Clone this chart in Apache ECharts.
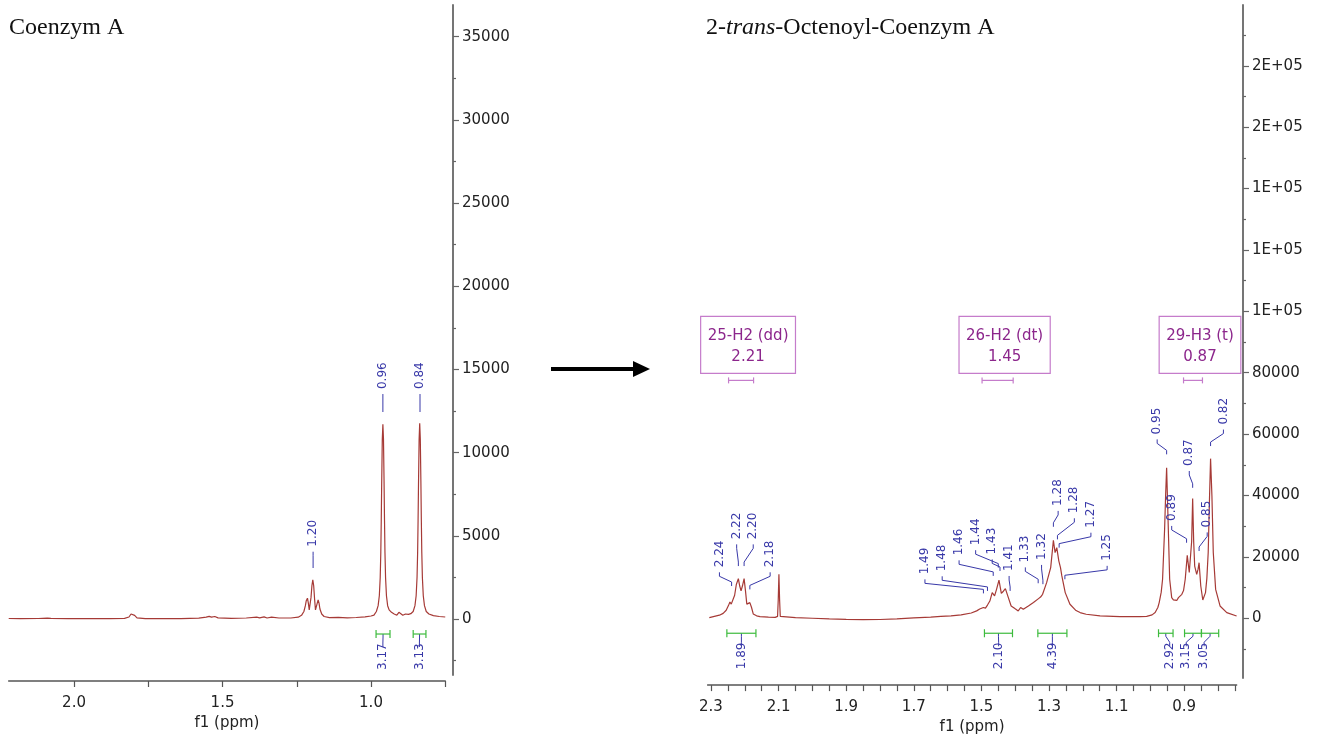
<!DOCTYPE html>
<html>
<head>
<meta charset="utf-8">
<title>NMR Coenzym A</title>
<script src="https://cdn.jsdelivr.net/npm/echarts@6/dist/echarts.min.js"></script>
<style>
  html, body { margin: 0; padding: 0; background: #fff; }
  #chart { width: 1324px; height: 740px; }
</style>
</head>
<body>
<div id="chart"></div>
<script>
'use strict';

// spectrum of Coenzym A: [ppm, intensity]
var coenzymeSpectrum = [
  [2.220, 30], [2.180, 20], [2.120, 30], [2.090, 50], [2.084, 130], [2.078, 40], [2.020, 20],
  [1.950, 30], [1.880, 20], [1.830, 40], [1.815, 120], [1.808, 300], [1.802, 380], [1.796, 220], [1.788, 70],
  [1.760, 20], [1.700, 30], [1.640, 20], [1.580, 50], [1.555, 110], [1.545, 160], [1.537, 110], [1.526, 150], [1.515, 70],
  [1.470, 40], [1.420, 60], [1.385, 110], [1.375, 70], [1.360, 130], [1.350, 60], [1.335, 110], [1.310, 60],
  [1.270, 60], [1.245, 110], [1.234, 220], [1.226, 450], [1.221, 800], [1.218, 1100], [1.214, 1250], [1.211, 950],
  [1.208, 550], [1.205, 650], [1.202, 1300], [1.199, 2000], [1.196, 2350], [1.193, 2000], [1.190, 1200],
  [1.187, 550], [1.184, 500], [1.181, 950], [1.178, 1150], [1.175, 950], [1.172, 600], [1.166, 300],
  [1.158, 150], [1.140, 80], [1.110, 100], [1.080, 70], [1.050, 90], [1.020, 130], [1.000, 180],
  [0.990, 230], [0.982, 450], [0.976, 800], [0.972, 1400], [0.969, 2500], [0.967, 4000], [0.9655, 5900],
  [0.964, 8200], [0.962, 10800], [0.960, 11700], [0.958, 10800], [0.956, 8200], [0.9545, 5900], [0.953, 4000],
  [0.951, 2500], [0.948, 1400], [0.944, 800], [0.939, 550], [0.935, 600], [0.931, 400], [0.922, 300],
  [0.913, 230], [0.906, 400], [0.901, 280], [0.893, 230], [0.884, 300], [0.874, 280], [0.866, 320],
  [0.858, 450], [0.852, 800], [0.848, 1400], [0.845, 2500], [0.843, 4000], [0.8415, 5900], [0.840, 8200],
  [0.838, 10800], [0.836, 11760], [0.834, 10800], [0.832, 8200], [0.8305, 5900], [0.829, 4000],
  [0.827, 2500], [0.824, 1400], [0.820, 800], [0.814, 450], [0.805, 300], [0.790, 200], [0.770, 150], [0.750, 120]
];

// spectrum of 2-trans-Octenoyl-Coenzym A: [ppm, intensity]
var octenoylSpectrum = [
  [2.305, 200], [2.290, 600], [2.275, 1000], [2.264, 1600], [2.255, 2600], [2.248, 4200], [2.244, 5300],
  [2.240, 4600], [2.236, 4500], [2.230, 7500], [2.225, 11000], [2.219, 12900], [2.215, 10500], [2.211, 8900],
  [2.207, 10500], [2.202, 12900], [2.198, 9000], [2.194, 4600], [2.189, 4800], [2.185, 5100], [2.180, 3500],
  [2.175, 1400], [2.165, 800], [2.155, 550], [2.130, 350], [2.110, 300], [2.103, 600], [2.101, 6000],
  [2.099, 14300], [2.097, 6000], [2.095, 600], [2.090, 300], [2.050, 200], [2.000, 0], [1.950, -200],
  [1.900, -350], [1.850, -450], [1.800, -400], [1.750, -200], [1.700, 100], [1.650, 350], [1.620, 600],
  [1.590, 800], [1.560, 1100], [1.530, 1700], [1.514, 2400], [1.505, 3000], [1.494, 3500], [1.488, 3300],
  [1.482, 4300], [1.475, 5600], [1.468, 8350], [1.461, 7300], [1.455, 9500], [1.448, 12400], [1.441, 8100],
  [1.435, 8800], [1.429, 9650], [1.422, 7300], [1.412, 4000], [1.401, 3150], [1.396, 3800], [1.391, 2400],
  [1.384, 3500], [1.376, 2900], [1.368, 3500], [1.361, 4000], [1.346, 5100], [1.331, 6400], [1.325, 6900],
  [1.319, 7800], [1.307, 11600], [1.295, 16500], [1.287, 25400], [1.282, 21400], [1.277, 23000],
  [1.271, 18700], [1.266, 16500], [1.262, 13800], [1.252, 8350], [1.238, 4550], [1.220, 2500],
  [1.208, 1850], [1.190, 1300], [1.149, 750], [1.090, 550], [1.030, 500], [1.011, 600], [0.995, 1100],
  [0.986, 1850], [0.978, 3500], [0.974, 5100], [0.968, 8500], [0.964, 12700], [0.958, 29000], [0.955, 40000],
  [0.952, 49000], [0.950, 41000], [0.947, 29000], [0.943, 12700], [0.937, 6700], [0.932, 6000], [0.927, 6200],
  [0.922, 5800], [0.917, 6700], [0.912, 6400], [0.907, 7800], [0.902, 9000], [0.897, 12700], [0.891, 20500],
  [0.885, 14900], [0.882, 14300], [0.878, 25000], [0.875, 39000], [0.872, 25000], [0.869, 17000],
  [0.863, 14300], [0.859, 16000], [0.856, 18100], [0.851, 10500], [0.845, 5950], [0.841, 6500],
  [0.837, 8350], [0.833, 13000], [0.829, 21400], [0.825, 39800], [0.822, 52000], [0.818, 39800],
  [0.814, 21400], [0.807, 9400], [0.794, 4000], [0.774, 1850], [0.745, 750]
];

// peak picking texts
var coenzymePeaks = ['1.20', '0.96', '0.84'];
var octenoylPeaks = ['2.24', '2.22', '2.20', '2.18', '1.49', '1.48', '1.46', '1.44', '1.43', '1.41',
  '1.33', '1.32', '1.28', '1.28', '1.27', '1.25', '0.95', '0.89', '0.87', '0.85', '0.82'];

// integrals
var coenzymeIntegrals = ['3.17', '3.13'];
var coenzymeIntegralRanges = [[0.983, 0.936], [0.858, 0.815]];
var octenoylIntegrals = ['1.89', '2.10', '4.39', '2.92', '3.15', '3.05'];
var octenoylIntegralRanges = [[2.253, 2.167], [1.491, 1.408], [1.333, 1.247], [0.976, 0.933], [0.899, 0.849], [0.849, 0.798]];

// multiplets
var multipletNames = ['25-H2 (dd)', '26-H2 (dt)', '29-H3 (t)'];
var multipletShifts = ['2.21', '1.45', '0.87'];
var multipletRanges = [[2.248, 2.174], [1.498, 1.406], [0.902, 0.846]];

// tick labels
var coenzymePpmLabels = [2.0, 1.5, 1.0];
var octenoylPpmLabels = [2.3, 2.1, 1.9, 1.7, 1.5, 1.3, 1.1, 0.9];
var coenzymeIntensityLabels = [0, 5000, 10000, 15000, 20000, 25000, 30000, 35000];
var octenoylIntensityLabels = [0, 20000, 40000, 60000, 80000, 100000, 120000, 140000, 160000, 180000];

// ---- annotation layout (text anchor ppm, text bottom, leader end ppm, leader end) ----
var coenzymePeakLayout = [
  [1.195, 4345, 1.195, 3065], [0.960, 13820, 0.960, 12440], [0.835, 13820, 0.835, 12440]
];
var octenoylPeakLayout = [
  [2.275, 16600, 2.239, 10500], [2.224, 25700, 2.219, 17000], [2.175, 25700, 2.202, 17000],
  [2.125, 16600, 2.185, 9400], [1.667, 14300, 1.494, 8100], [1.616, 15300, 1.482, 8900],
  [1.566, 20500, 1.465, 13800], [1.517, 23800, 1.450, 16500], [1.468, 20800, 1.445, 15400],
  [1.418, 15400, 1.415, 8900], [1.370, 18200, 1.332, 11400], [1.322, 19000, 1.318, 11100],
  [1.273, 36600, 1.287, 29800], [1.225, 34200, 1.275, 25700], [1.176, 29500, 1.270, 23000],
  [1.128, 18700, 1.253, 12700], [0.980, 59900, 0.952, 53400], [0.937, 31700, 0.893, 24600],
  [0.885, 49600, 0.875, 42500], [0.832, 29600, 0.856, 21900], [0.784, 63100, 0.822, 56100]
];
var coenzymeIntegralText = [0.960, 0.837];
var octenoylIntegralText = [2.210, 1.449, 1.290, 0.943, 0.894, 0.841];
var MULTIPLET_LEVEL = 77500;

var BLUE = '#3838a8';
var GREEN = '#3dbb3d';
var RED = '#a63a36';
var PURPLE = '#8c268c';
var PURPLE_LINE = '#c57ccb';
var FONT = 'DejaVu Sans';

function range(from, to, step) {
  var out = [];
  var n = Math.round((to - from) / step);
  for (var i = 0; i <= n; i++) out.push(Math.round((from + i * step) * 1000) / 1000);
  return out;
}

function plain(v) {
  return String(v);
}

function peakSeries(xi, yi, layout, texts) {
  return {
    type: 'custom', xAxisIndex: xi, yAxisIndex: yi, data: layout, silent: true, z: 5,
    renderItem: function (params, api) {
      var t = api.coord([api.value(0), api.value(1)]);
      var e = api.coord([api.value(2), api.value(3)]);
      var y1 = t[1] + 5, y2 = y1 + 4;
      var y3 = Math.max(e[1] - 4, y2);
      return {
        type: 'group',
        children: [{
          type: 'text', x: t[0], y: t[1], rotation: Math.PI / 2,
          style: { text: texts[params.dataIndex], fill: BLUE, fontSize: 12, fontFamily: FONT, align: 'left', verticalAlign: 'middle' }
        }, {
          type: 'polyline',
          shape: { points: [[t[0], y1], [t[0], y2], [e[0], y3], [e[0], e[1]]] },
          style: { stroke: BLUE, lineWidth: 1, fill: null }
        }]
      };
    }
  };
}

function integralSeries(xi, yi, ranges, textPos, texts) {
  var data = ranges.map(function (r, i) { return [r[0], r[1], textPos[i]]; });
  return {
    type: 'custom', xAxisIndex: xi, yAxisIndex: yi, data: data, silent: true, z: 5,
    renderItem: function (params, api) {
      var s = api.coord([api.value(0), 0]);
      var e = api.coord([api.value(1), 0]);
      var t = api.coord([api.value(2), 0]);
      var y = s[1] + 15;
      var cx = (s[0] + e[0]) / 2;
      return {
        type: 'group',
        children: [{
          type: 'polyline', shape: { points: [[cx, y], [cx, y + 3], [t[0], y + 9], [t[0], y + 13]] },
          style: { stroke: BLUE, lineWidth: 1, fill: null }
        }, {
          type: 'line', shape: { x1: s[0], y1: y, x2: e[0], y2: y }, style: { stroke: GREEN, lineWidth: 1.2 }
        }, {
          type: 'line', shape: { x1: s[0], y1: y - 4, x2: s[0], y2: y + 4 }, style: { stroke: GREEN, lineWidth: 1.2 }
        }, {
          type: 'line', shape: { x1: e[0], y1: y - 4, x2: e[0], y2: y + 4 }, style: { stroke: GREEN, lineWidth: 1.2 }
        }, {
          type: 'text', x: t[0], y: y + 36, rotation: Math.PI / 2,
          style: { text: texts[params.dataIndex], fill: BLUE, fontSize: 12, fontFamily: FONT, align: 'left', verticalAlign: 'middle' }
        }]
      };
    }
  };
}

var chart = echarts.init(document.getElementById('chart'));

var option = {
  animation: false,
  backgroundColor: '#fff',
  grid: [
    { left: 8.7, right: 878.75, top: 5, bottom: 65 },
    { left: 707.6, right: 87.4, top: 5, bottom: 61 }
  ],
  xAxis: [{
    gridIndex: 0, type: 'value', inverse: true, min: 0.75, max: 2.22, position: 'bottom', offset: 6,
    axisLine: { onZero: false, lineStyle: { color: '#555', width: 1.5 } },
    axisTick: { customValues: range(0.75, 2.0, 0.25), length: 6, lineStyle: { color: '#555', width: 1.2 } },
    axisLabel: { customValues: coenzymePpmLabels, formatter: function (v) { return v.toFixed(1); },
      color: '#222', fontSize: 15, fontFamily: FONT, margin: 15 },
    splitLine: { show: false },
    name: 'f1 (ppm)', nameLocation: 'middle', nameGap: 33,
    nameTextStyle: { color: '#222', fontSize: 15, fontFamily: FONT }
  }, {
    gridIndex: 1, type: 'value', inverse: true, min: 0.745, max: 2.31, position: 'bottom', offset: 7,
    axisLine: { onZero: false, lineStyle: { color: '#555', width: 1.5 } },
    axisTick: { customValues: range(0.75, 2.3, 0.05), length: 6, lineStyle: { color: '#555', width: 1.2 } },
    axisLabel: { customValues: octenoylPpmLabels, formatter: function (v) { return v.toFixed(1); },
      color: '#222', fontSize: 15, fontFamily: FONT, margin: 15 },
    splitLine: { show: false },
    name: 'f1 (ppm)', nameLocation: 'middle', nameGap: 34,
    nameTextStyle: { color: '#222', fontSize: 15, fontFamily: FONT }
  }],
  yAxis: [{
    gridIndex: 0, type: 'value', min: -3365, max: 36900, position: 'right', offset: 7.75,
    axisLine: { show: true, lineStyle: { color: '#666', width: 1.8 } },
    axisTick: { customValues: coenzymeIntensityLabels, length: 6, lineStyle: { color: '#666', width: 1.2 } },
    axisLabel: { customValues: coenzymeIntensityLabels, formatter: plain,
      color: '#222', fontSize: 15, fontFamily: FONT, margin: 9 },
    splitLine: { show: false }
  }, {
    gridIndex: 0, type: 'value', min: -3365, max: 36900, position: 'right', offset: 7.75,
    axisLine: { show: false },
    axisTick: { customValues: range(-2500, 32500, 5000), length: 3, lineStyle: { color: '#666', width: 1.2 } },
    axisLabel: { show: false },
    splitLine: { show: false }
  }, {
    gridIndex: 1, type: 'value', min: -19500, max: 199800, position: 'right', offset: 6.4,
    axisLine: { show: true, lineStyle: { color: '#666', width: 1.8 } },
    axisTick: { customValues: octenoylIntensityLabels, length: 6, lineStyle: { color: '#666', width: 1.2 } },
    axisLabel: { customValues: octenoylIntensityLabels, color: '#222', fontSize: 15, fontFamily: FONT, margin: 9,
      formatter: function (v) { return v >= 100000 ? Math.round(v / 100000) + 'E+05' : String(v); } },
    splitLine: { show: false }
  }, {
    gridIndex: 1, type: 'value', min: -19500, max: 199800, position: 'right', offset: 6.4,
    axisLine: { show: false },
    axisTick: { customValues: range(-10000, 190000, 20000), length: 3, lineStyle: { color: '#666', width: 1.2 } },
    axisLabel: { show: false },
    splitLine: { show: false }
  }],
  series: [{
    type: 'line', xAxisIndex: 0, yAxisIndex: 0, data: coenzymeSpectrum, showSymbol: false, smooth: false,
    lineStyle: { color: RED, width: 1.2 }, silent: true
  }, {
    type: 'line', xAxisIndex: 1, yAxisIndex: 2, data: octenoylSpectrum, showSymbol: false, smooth: false,
    lineStyle: { color: RED, width: 1.2 }, silent: true
  },
  peakSeries(0, 0, coenzymePeakLayout, coenzymePeaks),
  peakSeries(1, 2, octenoylPeakLayout, octenoylPeaks),
  integralSeries(0, 0, coenzymeIntegralRanges, coenzymeIntegralText, coenzymeIntegrals),
  integralSeries(1, 2, octenoylIntegralRanges, octenoylIntegralText, octenoylIntegrals),
  {
    type: 'custom', xAxisIndex: 1, yAxisIndex: 2, data: multipletRanges, silent: true, z: 5,
    renderItem: function (params, api) {
      var a = api.coord([api.value(0), MULTIPLET_LEVEL]);
      var b = api.coord([api.value(1), MULTIPLET_LEVEL]);
      var y = a[1];
      var cx = (a[0] + b[0]) / 2;
      var i = params.dataIndex;
      return {
        type: 'group',
        children: [{
          type: 'line', shape: { x1: a[0], y1: y, x2: b[0], y2: y }, style: { stroke: PURPLE_LINE, lineWidth: 1.2 }
        }, {
          type: 'line', shape: { x1: a[0], y1: y - 3, x2: a[0], y2: y + 3 }, style: { stroke: PURPLE_LINE, lineWidth: 1.2 }
        }, {
          type: 'line', shape: { x1: b[0], y1: y - 3, x2: b[0], y2: y + 3 }, style: { stroke: PURPLE_LINE, lineWidth: 1.2 }
        }, {
          type: 'text', x: cx + 7, y: y - 7,
          style: {
            text: multipletNames[i] + '\n' + multipletShifts[i],
            align: 'center', verticalAlign: 'bottom', fill: PURPLE, fontSize: 15, fontFamily: FONT,
            lineHeight: 21, padding: [9, 7, 6, 7], borderColor: PURPLE_LINE, borderWidth: 1.2
          }
        }]
      };
    }
  }],
  graphic: [{
    type: 'text', left: 9, top: 16,
    style: { text: 'Coenzym A', fontFamily: 'Liberation Serif', fontSize: 24, fill: '#111' }
  }, {
    type: 'text', left: 706, top: 16,
    style: {
      text: '2-{i|trans}-Octenoyl-Coenzym A', fontFamily: 'Liberation Serif', fontSize: 24, fill: '#111',
      rich: { i: { fontStyle: 'italic', fontFamily: 'Liberation Serif', fontSize: 24, fill: '#111' } }
    }
  }, {
    type: 'polygon',
    shape: { points: [[551, 367], [633, 367], [633, 361], [650, 369], [633, 377], [633, 371], [551, 371]] },
    style: { fill: '#000' }
  }]
};

chart.setOption(option);
</script>
</body>
</html>
